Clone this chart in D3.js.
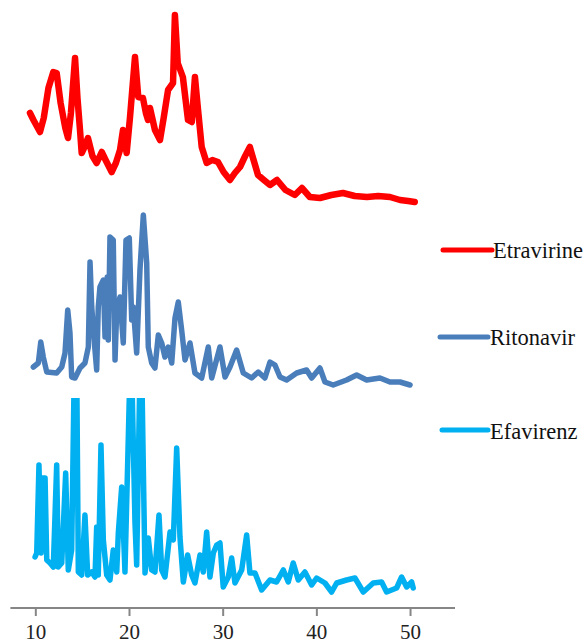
<!DOCTYPE html>
<html>
<head>
<meta charset="utf-8">
<script src="https://cdn.jsdelivr.net/npm/d3@7"></script>
<style>
    body { margin: 0; background: #fff; }
</style>
</head>
<body>
<div id="chart"></div>
<script>
// 2-theta ticks on the x axis
const tickLabels = [10, 20, 30, 40, 50];

// series names, in legend order
const seriesNames = ['Etravirine', 'Ritonavir', 'Efavirenz'];

// [2theta, intensity a.u. (stacked)]
const etravirine = [
    [9.43, 495], [9.8, 488], [10.5, 476], [10.9, 490], [11.4, 520], [11.92, 536], [12.28, 535],
    [12.7, 505], [13.2, 480], [13.49, 470], [13.8, 495], [14.24, 550], [14.5, 510], [14.77, 478],
    [14.95, 455], [15.3, 462], [15.62, 470], [16.1, 452], [16.55, 445], [17.09, 456], [17.5, 448],
    [18.15, 436], [18.6, 445], [19.04, 458], [19.36, 478], [19.75, 455], [20.1, 490], [20.64, 551],
    [20.99, 511], [21.49, 510], [21.8, 495], [22.03, 488], [22.24, 500], [22.77, 478], [23.31, 468],
    [23.7, 490], [24.17, 518], [24.7, 525], [24.9, 593], [25.2, 545], [25.75, 531], [26.3, 488],
    [26.7, 486], [27.04, 531], [27.3, 505], [27.76, 461], [28.3, 445], [28.9, 448], [29.5, 446],
    [30.1, 436], [30.78, 428], [31.3, 435], [31.85, 441], [32.4, 452], [32.9, 461], [33.3, 448],
    [33.77, 433], [34.4, 428], [35.05, 423], [35.8, 428], [36.7, 418], [37.7, 413], [38.46, 420],
    [39.3, 411], [40.38, 410], [41.6, 413], [42.84, 415], [44.1, 412], [45.4, 411], [46.6, 412],
    [47.86, 411], [48.93, 408], [49.8, 407], [50.5, 406]
];

const ritonavir = [
    [9.79, 241], [10.32, 245], [10.58, 266], [10.85, 251], [11.22, 236], [12.28, 235], [12.82, 241],
    [13.17, 255], [13.46, 298], [13.7, 275], [13.88, 231], [14.24, 230], [14.77, 240], [15.3, 245],
    [15.66, 261], [15.84, 346], [16.02, 301], [16.37, 258], [16.55, 238], [16.72, 301], [16.9, 321],
    [17.26, 328], [17.44, 271], [17.68, 331], [17.79, 268], [17.97, 371], [18.32, 368], [18.51, 248],
    [18.69, 298], [19.04, 311], [19.39, 265], [19.68, 368], [20.03, 370], [20.29, 288], [20.46, 301],
    [20.82, 255], [21.17, 338], [21.53, 393], [21.89, 345], [22.06, 261], [22.42, 245], [22.77, 240],
    [23.13, 273], [23.49, 265], [23.84, 251], [24.19, 261], [24.56, 245], [24.91, 290], [25.26, 306],
    [25.62, 278], [25.98, 248], [26.51, 265], [27.04, 235], [27.76, 230], [28.46, 261], [28.83, 230],
    [29.71, 261], [30.25, 231], [30.78, 241], [31.49, 258], [32.2, 235], [33.09, 230], [33.8, 236],
    [34.51, 230], [35.05, 246], [35.58, 243], [36.12, 231], [36.83, 228], [37.9, 235], [38.96, 238],
    [39.5, 230], [40.38, 240], [40.92, 226], [41.8, 223], [43.23, 228], [44.3, 233], [45.37, 228],
    [46.79, 230], [47.86, 226], [48.93, 226], [50.0, 223]
];

const efavirenz = [
    [9.97, 51], [10.15, 55], [10.39, 143], [10.61, 55], [10.75, 130], [11.04, 130], [11.22, 48],
    [11.57, 45], [11.92, 41], [12.28, 143], [12.45, 41], [12.82, 45], [13.24, 135], [13.52, 38],
    [13.88, 58], [14.16, 240], [14.42, 240], [14.59, 36], [14.95, 33], [15.3, 93], [15.59, 33],
    [16.02, 36], [16.37, 31], [16.55, 81], [16.72, 33], [17.01, 163], [17.26, 68], [17.62, 33],
    [17.97, 28], [18.32, 58], [18.69, 36], [18.86, 75], [19.22, 121], [19.57, 36], [20.11, 240],
    [20.29, 240], [20.64, 85], [20.82, 43], [21.17, 240], [21.36, 240], [21.71, 35], [22.06, 70],
    [22.42, 38], [22.77, 36], [23.2, 93], [23.49, 38], [23.84, 31], [24.38, 76], [24.73, 68],
    [25.09, 160], [25.44, 71], [25.8, 26], [26.26, 53], [26.69, 33], [27.04, 25], [27.58, 53],
    [27.93, 36], [28.29, 76], [28.64, 31], [29.0, 55], [29.36, 63], [29.71, 65], [30.06, 21],
    [30.6, 31], [30.96, 50], [31.31, 25], [32.03, 38], [32.56, 73], [32.91, 35], [33.45, 35],
    [34.16, 18], [35.05, 28], [35.76, 26], [36.47, 38], [37.0, 26], [37.53, 45], [38.07, 28],
    [38.78, 36], [39.5, 23], [40.03, 30], [40.92, 25], [41.63, 16], [42.17, 25], [43.23, 28],
    [44.12, 30], [45.01, 16], [46.07, 25], [46.97, 26], [47.5, 16], [48.57, 20], [49.1, 31],
    [49.64, 21], [50.17, 26], [50.34, 20]
];

const seriesColors = ['#ff0000', '#4a7ebb', '#00b0f0'];
const seriesWidths = [6.5, 5.5, 5.5];

const width = 587;
const height = 643;
const axisY = 608;

const svg = d3.select('#chart').append('svg')
    .attr('width', width)
    .attr('height', height);

const x = d3.scaleLinear()
    .domain([7.34, 54.8])
    .range([10.4, 455]);

const y = d3.scaleLinear()
    .domain([0, 608])
    .range([axisY, 0]);

// efavirenz tops are cut off in the original
svg.append('clipPath')
    .attr('id', 'clip-efa')
    .append('rect')
    .attr('x', 0)
    .attr('y', y(210))
    .attr('width', width)
    .attr('height', height);

const line = d3.line()
    .x(d => x(d[0]))
    .y(d => y(d[1]));

const allSeries = [etravirine, ritonavir, efavirenz];

allSeries.forEach((data, i) => {
    const path = svg.append('path')
        .datum(data)
        .attr('d', line)
        .style('fill', 'none')
        .style('stroke', seriesColors[i])
        .style('stroke-width', seriesWidths[i])
        .style('stroke-linejoin', 'round')
        .style('stroke-linecap', 'round');
    if (i === 2) path.attr('clip-path', 'url(#clip-efa)');
});

// x axis
const axis = svg.append('g')
    .attr('transform', 'translate(0,' + axisY + ')')
    .call(d3.axisBottom(x).tickValues(tickLabels).tickSize(8).tickPadding(8));

axis.select('.domain')
    .attr('d', 'M' + x.range()[0] + ',0H' + x.range()[1])
    .style('stroke', '#868686')
    .style('stroke-width', 2);
axis.selectAll('.tick line')
    .style('stroke', '#868686')
    .style('stroke-width', 2);
axis.selectAll('.tick text')
    .style('font-family', '"Liberation Serif", serif')
    .style('font-size', '21px')
    .style('fill', '#222');

// legend
const legendRows = [
    { x1: 443, x2: 492, y: 250, tx: 493, ty: 258 },
    { x1: 440, x2: 488, y: 337, tx: 490, ty: 345 },
    { x1: 442, x2: 488, y: 430, tx: 490, ty: 439 }
];

legendRows.forEach((r, i) => {
    svg.append('line')
        .attr('x1', r.x1)
        .attr('x2', r.x2)
        .attr('y1', r.y)
        .attr('y2', r.y)
        .style('stroke', seriesColors[i])
        .style('stroke-width', 5)
        .style('stroke-linecap', 'round');
    svg.append('text')
        .attr('x', r.tx)
        .attr('y', r.ty)
        .style('font-family', '"Liberation Serif", serif')
        .style('font-size', '22.5px')
        .style('fill', '#111')
        .text(seriesNames[i]);
});
</script>
</body>
</html>
